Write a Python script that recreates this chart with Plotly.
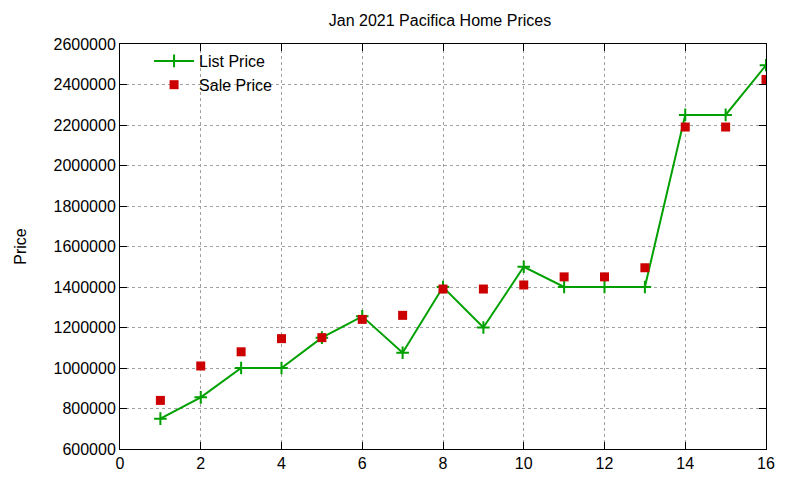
import plotly.graph_objects as go

listing = list(range(1, 17))
list_price = [750000, 855000, 1000000, 1000000, 1150000, 1255000, 1075000, 1400000,
              1200000, 1500000, 1400000, 1400000, 1400000, 2250000, 2250000, 2495000]
sale_price = [840000, 1010000, 1080000, 1145000, 1150000, 1240000, 1260000, 1390000,
              1390000, 1410000, 1450000, 1450000, 1495000, 2190000, 2190000, 2425000]

font = "Liberation Sans, Arial, sans-serif"

fig = go.Figure()
fig.add_trace(go.Scatter(x=listing, y=list_price, name="List Price",
                         mode="lines+markers",
                         line=dict(color="#00a000", width=2),
                         marker=dict(symbol="cross-thin", size=9,
                                     line=dict(color="#00a000", width=2))))
fig.add_trace(go.Scatter(x=listing, y=sale_price, name="Sale Price",
                         mode="markers",
                         marker=dict(symbol="square", size=9, color="#cc0000")))

axis = dict(showline=True, linecolor="black", linewidth=1, mirror="ticks",
            ticks="inside", ticklen=7, tickcolor="black",
            showgrid=True, gridcolor="#a0a0a0", griddash="dot", gridwidth=1,
            zeroline=False, tickfont=dict(size=16, color="black"))

fig.update_xaxes(range=[0, 16], dtick=2, tick0=0, **axis)
fig.update_yaxes(range=[600000, 2600000], dtick=200000, tickformat="d",
                 title=dict(text="Price", font=dict(size=16, color="black"), standoff=22),
                 **axis)

fig.update_layout(
    width=800, height=480,
    title=dict(text="Jan 2021 Pacifica Home Prices", x=0.54, xanchor="center",
               y=0.975, yanchor="middle", font=dict(size=16, color="black")),
    font=dict(family=font, color="black"),
    plot_bgcolor="white", paper_bgcolor="white",
    margin=dict(l=112, r=42, t=36, b=39),
    legend=dict(x=0.045, y=1.0, xanchor="left", yanchor="top",
                bgcolor="rgba(0,0,0,0)", font=dict(size=16),
                tracegroupgap=0, itemwidth=40),
    showlegend=True,
)

fig.write_html("out.html")
